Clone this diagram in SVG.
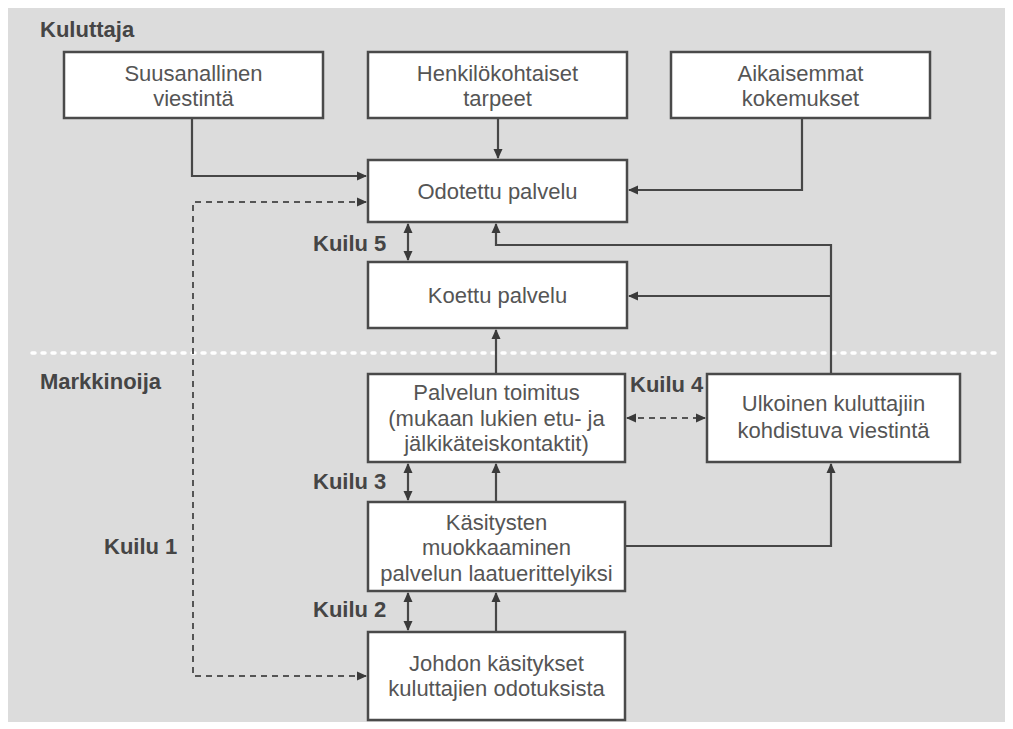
<svg xmlns="http://www.w3.org/2000/svg" width="1013" height="729" viewBox="0 0 1013 729">
<defs>
<marker id="ah" viewBox="0 0 10 10" refX="9" refY="5" markerWidth="10" markerHeight="10" markerUnits="userSpaceOnUse" orient="auto-start-reverse">
<path d="M0,0.5 L10,5 L0,9.5 z" fill="#3a3a3a"/>
</marker>
</defs>
<style>
.box{fill:#fff;stroke:#4a4a4a;stroke-width:2.5}
.t{font-family:"Liberation Sans",Arial,sans-serif;font-size:22px;fill:#555;text-anchor:middle}
.lbl{font-family:"Liberation Sans",Arial,sans-serif;font-size:22px;font-weight:bold;fill:#454545}
.c{fill:none;stroke:#474747;stroke-width:2.2}
.d{fill:none;stroke:#555;stroke-width:2;stroke-dasharray:6 5}
</style>
<rect x="0" y="0" width="1013" height="729" fill="#fff"/>
<rect x="8" y="8" width="997" height="714" fill="#dcdcdc"/>
<line x1="32" y1="353" x2="995" y2="353" stroke="#fff" stroke-width="3.5" stroke-dasharray="3 7" stroke-linecap="round"/>
<text class="lbl" x="40" y="37">Kuluttaja</text>
<text class="lbl" x="40" y="389">Markkinoija</text>
<g id="connectors">
<path class="c" d="M192,118 V176 H366" marker-end="url(#ah)"/>
<path class="c" d="M498,118 V158" marker-end="url(#ah)"/>
<path class="c" d="M802,118 V190 H629" marker-end="url(#ah)"/>
<path class="d" d="M366,202 H193 V676 H366" marker-start="url(#ah)" marker-end="url(#ah)"/>
<path class="c" d="M408,224 V260" marker-start="url(#ah)" marker-end="url(#ah)"/>
<path class="c" d="M831,374 V245 H496 V224" marker-end="url(#ah)"/>
<path class="c" d="M831,296 H629" marker-end="url(#ah)"/>
<path class="c" d="M496,374 V330" marker-end="url(#ah)"/>
<path class="d" d="M627,418 H705" marker-start="url(#ah)" marker-end="url(#ah)"/>
<path class="c" d="M408,464 V500" marker-start="url(#ah)" marker-end="url(#ah)"/>
<path class="c" d="M496,502 V464" marker-end="url(#ah)"/>
<path class="c" d="M625,546 H831 V464" marker-end="url(#ah)"/>
<path class="c" d="M408,593 V630" marker-start="url(#ah)" marker-end="url(#ah)"/>
<path class="c" d="M496,632 V593" marker-end="url(#ah)"/>
<text class="lbl" x="313" y="251">Kuilu 5</text>
<text class="lbl" x="630" y="392">Kuilu 4</text>
<text class="lbl" x="313" y="489">Kuilu 3</text>
<text class="lbl" x="313" y="617">Kuilu 2</text>
<text class="lbl" x="104" y="554">Kuilu 1</text>
</g>
<g id="n1"><rect class="box" x="64" y="52" width="259" height="66"/><text class="t" x="193.5" y="81">Suusanallinen</text><text class="t" x="193.5" y="106">viestintä</text></g>
<g id="n2"><rect class="box" x="368" y="52" width="259" height="66"/><text class="t" x="497.5" y="81">Henkilökohtaiset</text><text class="t" x="497.5" y="106">tarpeet</text></g>
<g id="n3"><rect class="box" x="671" y="52" width="259" height="66"/><text class="t" x="800.5" y="81">Aikaisemmat</text><text class="t" x="800.5" y="106">kokemukset</text></g>
<g id="n4"><rect class="box" x="368" y="160" width="259" height="62"/><text class="t" x="497.5" y="199">Odotettu palvelu</text></g>
<g id="n5"><rect class="box" x="368" y="262" width="259" height="66"/><text class="t" x="497.5" y="303">Koettu palvelu</text></g>
<g id="n6"><rect class="box" x="368" y="374" width="257" height="88"/><text class="t" x="496.5" y="400">Palvelun toimitus</text><text class="t" x="496.5" y="426">(mukaan lukien etu- ja</text><text class="t" x="496.5" y="451">jälkikäteiskontaktit)</text></g>
<g id="n7"><rect class="box" x="707" y="374" width="253" height="88"/><text class="t" x="833.5" y="411">Ulkoinen kuluttajiin</text><text class="t" x="833.5" y="438">kohdistuva viestintä</text></g>
<g id="n8"><rect class="box" x="368" y="502" width="257" height="89"/><text class="t" x="496.5" y="530">Käsitysten</text><text class="t" x="496.5" y="555">muokkaaminen</text><text class="t" x="496.5" y="581">palvelun laatuerittelyiksi</text></g>
<g id="n9"><rect class="box" x="368" y="632" width="257" height="88"/><text class="t" x="496.5" y="671">Johdon käsitykset</text><text class="t" x="496.5" y="696">kuluttajien odotuksista</text></g>
</svg>
